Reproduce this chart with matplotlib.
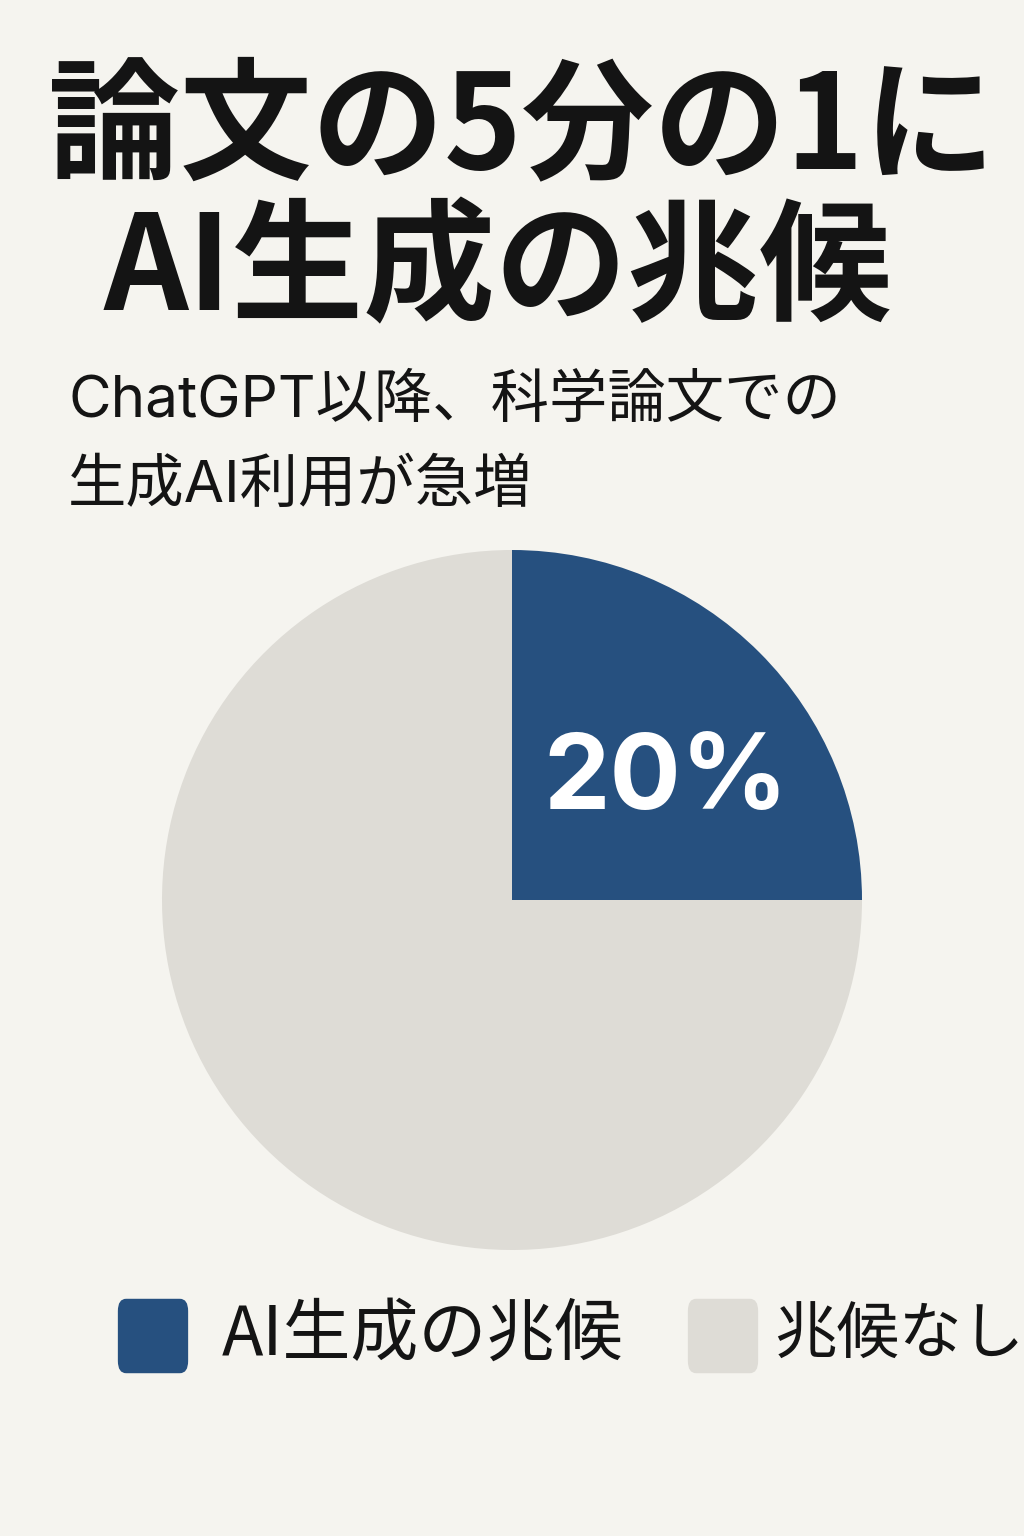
import matplotlib
matplotlib.use("Agg")
import matplotlib.pyplot as plt
from matplotlib.patches import FancyBboxPatch

plt.rcParams['font.family'] = ['Noto Sans CJK JP', 'DejaVu Sans']

# data
title_lines = ["論文の5分の1に", "AI生成の兆候"]
subtitle_lines = ["ChatGPT以降、科学論文での", "生成AI利用が急増"]
categories = ["AI生成の兆候", "兆候なし"]
shares = [25, 75]          # drawn as a quarter in the reference
share_label = "20%"
colors = ["#26507f", "#dedcd6"]

bg = "#f5f4ef"
ink = "#141414"

W, H = 1024, 1536
fig = plt.figure(figsize=(W / 100, H / 100), dpi=100, facecolor=bg)

def fx(px):
    return px / W

def fy(py):
    return 1 - py / H

# title
fig.text(fx(522), fy(130), title_lines[0], fontsize=95, fontweight="bold",
         color=ink, ha="center", va="center")
fig.text(fx(498), fy(272), title_lines[1], fontsize=95, fontweight="bold",
         color=ink, ha="center", va="center")

# subtitle
sub_family = ['Inter', 'Noto Sans CJK JP']
fig.text(fx(68), fy(402), subtitle_lines[0], fontsize=42, color=ink,
         ha="left", va="center", family=sub_family)
fig.text(fx(68), fy(487), subtitle_lines[1], fontsize=42, color=ink,
         ha="left", va="center", family=sub_family)

# pie
ax = fig.add_axes([fx(162), fy(1250), fx(700), 700 / H])
ax.set_facecolor(bg)
wedges, _ = ax.pie(shares, colors=colors, startangle=90, counterclock=False,
                   radius=1, wedgeprops=dict(linewidth=0))
ax.set_xlim(-1, 1)
ax.set_ylim(-1, 1)
ax.set_aspect("equal")
ax.axis("off")

ax.text(0.44, 0.34, share_label, fontsize=76, fontweight="bold", color="white",
        ha="center", va="center", family=['Inter', 'Noto Sans CJK JP'])

# legend, drawn by hand so it can sit wide across the bottom
leg_items = [(118, 222, 49), (688, 774, 45)]
for (box_x, text_x, size), lab, w in zip(leg_items, categories, wedges):
    patch = FancyBboxPatch((fx(box_x + 6), fy(1364)), fx(58), 56 / H,
                           boxstyle="round,pad=0.006,rounding_size=0.008",
                           transform=fig.transFigure,
                           facecolor=w.get_facecolor(), edgecolor="none")
    fig.patches.append(patch)
    fig.text(fx(text_x), fy(1336), lab, fontsize=size, color=ink,
             ha="left", va="center")

fig.savefig("out.png", dpi=100, facecolor=bg)
